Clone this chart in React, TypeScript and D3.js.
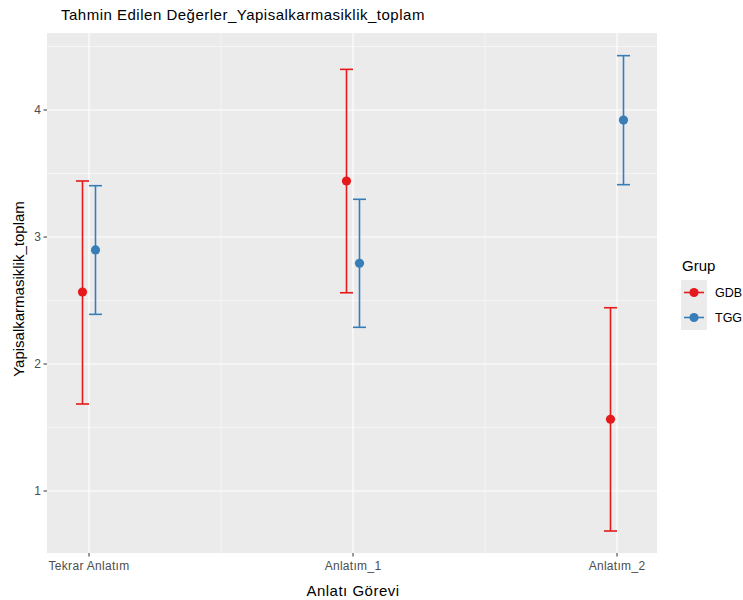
import React from "react";
import * as d3 from "d3";

const categories = ["Tekrar Anlatım", "Anlatım_1", "Anlatım_2"];
const groups = ["GDB", "TGG"];
const colors = ["#E41A1C", "#377EB8"];
const gdbMean = [2.567, 3.441, 1.565];
const gdbLow = [1.685, 2.561, 0.685];
const gdbHigh = [3.441, 4.32, 2.443];
const tggMean = [2.898, 2.793, 3.921];
const tggLow = [2.391, 2.289, 3.412];
const tggHigh = [3.404, 3.297, 4.428];
const yTicks = [1, 2, 3, 4];
const yMinor = [1.5, 2.5, 3.5, 4.5];

const W = 743, H = 600;
const PL = 47, PR = 657, PT = 33, PB = 553;

export default function App() {
  const x = d3.scalePoint<string>().domain(categories).range([89, 617]);
  const y = d3.scaleLinear().domain([1, 4]).range([491, 110]);
  const dodge = 6.5;
  const cap = 6.5;
  const series = [
    { mean: gdbMean, low: gdbLow, high: gdbHigh, off: -dodge, color: colors[0] },
    { mean: tggMean, low: tggLow, high: tggHigh, off: dodge, color: colors[1] },
  ];
  const xs = categories.map((c) => x(c) as number);
  const xMinor = [(xs[0] + xs[1]) / 2, (xs[1] + xs[2]) / 2];
  const font = "Liberation Sans, Arial, Helvetica, sans-serif";
  return (
    <svg width={W} height={H} style={{ position: "absolute", left: 0, top: 0 }} fontFamily={font}>
      <rect x={0} y={0} width={W} height={H} fill="#fff" />
      <text x={61} y={20} fontSize={15} letterSpacing={0.5} fill="#000">Tahmin Edilen Değerler_Yapisalkarmasiklik_toplam</text>
      <rect x={PL} y={PT} width={PR - PL} height={PB - PT} fill="#EBEBEB" />
      {yMinor.map((v) => (
        <line key={"ym" + v} x1={PL} x2={PR} y1={y(v)} y2={y(v)} stroke="#fff" strokeWidth={0.55} />
      ))}
      {xMinor.map((v, i) => (
        <line key={"xm" + i} x1={v} x2={v} y1={PT} y2={PB} stroke="#fff" strokeWidth={0.55} />
      ))}
      {yTicks.map((v) => (
        <line key={"yM" + v} x1={PL} x2={PR} y1={y(v)} y2={y(v)} stroke="#fff" strokeWidth={1.1} />
      ))}
      {xs.map((v, i) => (
        <line key={"xM" + i} x1={v} x2={v} y1={PT} y2={PB} stroke="#fff" strokeWidth={1.1} />
      ))}
      {series.map((s, si) => (
        <g key={si} stroke={s.color} fill={s.color}>
          {categories.map((c, i) => {
            const cx = xs[i] + s.off;
            return (
              <g key={c}>
                <line x1={cx} x2={cx} y1={y(s.low[i])} y2={y(s.high[i])} strokeWidth={1.6} />
                <line x1={cx - cap} x2={cx + cap} y1={y(s.low[i])} y2={y(s.low[i])} strokeWidth={1.6} />
                <line x1={cx - cap} x2={cx + cap} y1={y(s.high[i])} y2={y(s.high[i])} strokeWidth={1.6} />
                <circle cx={cx} cy={y(s.mean[i])} r={4.6} stroke="none" />
              </g>
            );
          })}
        </g>
      ))}
      {yTicks.map((v) => (
        <g key={"yt" + v}>
          <line x1={PL - 3.5} x2={PL} y1={y(v)} y2={y(v)} stroke="#333" strokeWidth={1} />
          <text x={PL - 6} y={y(v)} dy="0.35em" textAnchor="end" fontSize={12} fill="#4D4D4D">{v}</text>
        </g>
      ))}
      {categories.map((c, i) => (
        <g key={"xt" + c}>
          <line x1={xs[i]} x2={xs[i]} y1={PB} y2={PB + 3.5} stroke="#333" strokeWidth={1} />
          <text x={xs[i]} y={PB + 17} textAnchor="middle" fontSize={12} letterSpacing={0.3} fill="#4D4D4D">{c}</text>
        </g>
      ))}
      <text x={353} y={596} textAnchor="middle" fontSize={15} letterSpacing={0.5} fill="#000">Anlatı Görevi</text>
      <text transform={`translate(24,${(PT + PB) / 2 - 4}) rotate(-90)`} textAnchor="middle" fontSize={15} fill="#000">Yapisalkarmasiklik_toplam</text>
      <text x={682} y={271} fontSize={15} fill="#000">Grup</text>
      {groups.map((g, i) => {
        const ky = 280 + i * 25;
        return (
          <g key={g}>
            <rect x={681} y={ky} width={26} height={25} fill="#EBEBEB" />
            <line x1={684} x2={704} y1={ky + 12.5} y2={ky + 12.5} stroke={colors[i]} strokeWidth={1.6} />
            <circle cx={694} cy={ky + 12.5} r={4.6} fill={colors[i]} />
            <text x={715} y={ky + 12.5} dy="0.35em" fontSize={12.5} fill="#000">{g}</text>
          </g>
        );
      })}
    </svg>
  );
}
